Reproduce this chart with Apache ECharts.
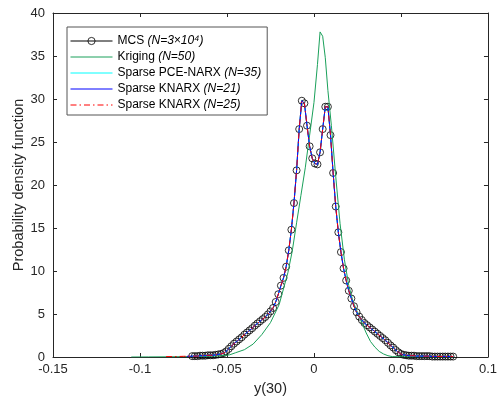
<!DOCTYPE html>
<html><head><meta charset="utf-8">
<script src="https://cdn.jsdelivr.net/npm/echarts@6/dist/echarts.min.js"></script>
<style>html,body{margin:0;padding:0;background:#fff}#c{width:500px;height:403px}</style>
</head><body><div id="c"></div>
<script>
// ---- data ----
const xTicks = [-0.15, -0.1, -0.05, 0, 0.05, 0.1];
const yTicks = [0, 5, 10, 15, 20, 25, 30, 35, 40];
const mcsStart = -0.07, mcsStep = 0.0015;
const mcsY = [
  0.1,0.1,0.1,0.15,0.15,0.15,0.2,0.2,0.2,0.25,
  0.3,0.35,0.45,0.65,0.95,1.25,1.55,1.8,2.05,2.3,
  2.6,2.85,3.1,3.35,3.65,3.9,4.15,4.4,4.65,4.95,
  5.3,5.7,6.4,7.3,8.3,9.2,10.5,12.4,14.8,17.9,
  21.7,26.5,29.8,29.5,26.9,24.5,23.1,22.5,22.4,23.8,
  26.5,29.1,29.1,25.8,21.4,17.5,14.5,12.2,10.3,8.9,
  7.7,6.8,5.9,5.2,4.7,4.3,3.95,3.7,3.45,3.2,
  2.95,2.7,2.45,2.2,1.95,1.65,1.35,1.1,0.8,0.55,
  0.35,0.25,0.2,0.15,0.15,0.15,0.1,0.1,0.1,0.1,
  0.1,0.1,0.05,0.05,0.05,0.05,0.05,0.05,0.05,0.05,0.05
];
const krigX = [-0.105,-0.095,-0.085,-0.075,-0.065,-0.055,-0.0485,-0.045,-0.04,-0.035,-0.03,-0.025,-0.02,-0.015,-0.0125,-0.01,-0.0075,-0.005,-0.0025,0,0.002,0.0035,0.005,0.0065,0.008,0.01,0.0125,0.015,0.0175,0.02,0.0225,0.025,0.0275,0.03,0.0325,0.035,0.0375,0.04,0.0425,0.045,0.05,0.06,0.07,0.08];
const krigY = [0,0.01,0.02,0.04,0.07,0.12,0.25,0.5,0.85,1.5,2.6,4.0,6.1,9.8,12.3,15.6,18.8,22.0,25.8,29.6,34.0,37.8,37.3,34.8,31.0,26.9,21.0,15.5,11.3,8.3,6.4,5.2,4.0,2.8,1.8,1.15,0.65,0.35,0.15,0.05,0.02,0.01,0,0];
// surrogate curves coincide with the MCS curve
const pceY = mcsY.slice();
const knarx21Y = mcsY.slice();
const knarx25Y = mcsY.slice();
const knarx25LeadX = [-0.085, -0.08, -0.075];
const knarx25LeadY = [0.05, 0.05, 0.08];
const knarx21LeadX = [-0.073];
const knarx21LeadY = [0.08];
const seriesNames = ['MCS (N=3×10⁴)', 'Kriging (N=50)', 'Sparse PCE-NARX (N=35)', 'Sparse KNARX (N=21)', 'Sparse KNARX (N=25)'];

// ---- build ----
const mcsX = mcsY.map((_, i) => +(mcsStart + mcsStep * i).toFixed(5));
const pairs = (xs, ys) => xs.map((x, i) => [x, ys[i]]);
const mcsData = pairs(mcsX, mcsY);
const FONT = "'Liberation Sans', Arial, Helvetica, sans-serif";
const AX = '#262626';

const chart = echarts.init(document.getElementById('c'), null, {renderer: 'canvas'});
const axisCommon = (show) => ({
  type: 'value',
  axisLine: {show: true, onZero: false, lineStyle: {color: AX, width: 1}},
  axisTick: {show: true, inside: true, length: 4, lineStyle: {color: AX, width: 1}},
  splitLine: {show: false},
  axisLabel: {show: show, color: AX, fontSize: 13, fontFamily: FONT}
});
const noSym = {opacity: 0};
chart.setOption({
  animation: false,
  backgroundColor: '#fff',
  grid: {left: 53, right: 8, top: 13, bottom: 46},
  xAxis: [
    Object.assign(axisCommon(true), {min: xTicks[0], max: xTicks[xTicks.length-1], interval: 0.05, position: 'bottom',
      name: 'y(30)', nameLocation: 'middle', nameGap: 24,
      nameTextStyle: {color: AX, fontSize: 14.5, fontFamily: FONT},
      axisLabel: {show: true, color: AX, fontSize: 13, fontFamily: FONT, margin: 6,
        formatter: v => { const t = xTicks.find(k => Math.abs(k - v) < 1e-9); return t === undefined ? '' : String(t); }}}),
    Object.assign(axisCommon(false), {min: xTicks[0], max: xTicks[xTicks.length-1], interval: 0.05, position: 'top'})
  ],
  yAxis: [
    Object.assign(axisCommon(true), {min: yTicks[0], max: yTicks[yTicks.length-1], interval: 5, position: 'left',
      name: 'Probability density function', nameLocation: 'middle', nameGap: 27, nameMoveOverlap: false,
      nameTextStyle: {color: AX, fontSize: 14.5, fontFamily: FONT}}),
    Object.assign(axisCommon(false), {min: yTicks[0], max: yTicks[yTicks.length-1], interval: 5, position: 'right'})
  ],
  legend: {
    orient: 'vertical', left: 67, top: 27,
    padding: [8, 6, 4, 3],
    itemWidth: 42, itemHeight: 9, itemGap: 4,
    borderColor: '#555', borderWidth: 1, backgroundColor: '#fff',
    selectedMode: false,
    lineStyle: {width: 1},
    data: [
      {name: seriesNames[0], itemStyle: {borderWidth: 0.8}},
      {name: seriesNames[1], itemStyle: noSym},
      {name: seriesNames[2], itemStyle: noSym},
      {name: seriesNames[3], itemStyle: noSym},
      {name: seriesNames[4], itemStyle: noSym}
    ],
    formatter: n => { const k = n.indexOf(' ('); return '{r|' + n.slice(0, k + 1) + '}{i|' + n.slice(k + 1) + '}'; },
    textStyle: {fontSize: 12, fontFamily: FONT, color: '#000',
      rich: {r: {fontSize: 12, fontFamily: FONT, color: '#000'}, i: {fontSize: 12, fontFamily: FONT, color: '#000', fontStyle: 'italic'}}}
  },
  series: [
    {name: seriesNames[0], type: 'line', data: mcsData, symbol: 'circle', symbolSize: 7, showAllSymbol: true,
      itemStyle: {color: 'rgba(0,0,0,0)', borderColor: '#000', borderWidth: 0.8},
      lineStyle: {color: '#000', width: 0.8}, z: 2},
    {name: seriesNames[1], type: 'line', data: pairs(krigX, krigY), symbol: 'none',
      itemStyle: {color: '#1aa05a'}, lineStyle: {color: '#1aa05a', width: 1}, z: 3},
    {name: seriesNames[2], type: 'line', data: mcsData.map((p, i) => [p[0], pceY[i]]), symbol: 'none',
      itemStyle: {color: '#00ffff'}, lineStyle: {color: '#00ffff', width: 1}, z: 4},
    {name: seriesNames[3], type: 'line', data: pairs(knarx21LeadX, knarx21LeadY).concat(mcsData.map((p, i) => [p[0], knarx21Y[i]])), symbol: 'none',
      itemStyle: {color: '#0000ff'}, lineStyle: {color: '#0000ff', width: 1}, z: 5},
    {name: seriesNames[4], type: 'line', data: pairs(knarx25LeadX, knarx25LeadY).concat(mcsData.map((p, i) => [p[0], knarx25Y[i]])), symbol: 'none',
      itemStyle: {color: '#ff0000'}, lineStyle: {color: '#ff0000', width: 1, type: [6, 3, 1.5, 3]}, z: 6}
  ]
});
</script></body></html>
